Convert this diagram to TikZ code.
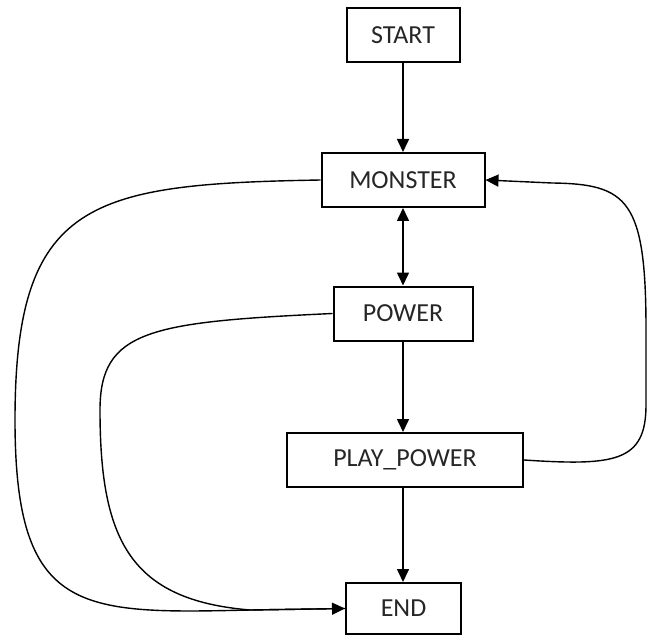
\documentclass[tikz,border=0pt]{standalone}
\usepackage{fontspec}
\setmainfont{Carlito}
\usepackage{tikz}
\usetikzlibrary{arrows.meta}

\begin{document}
\begin{tikzpicture}[x=0.5pt,y=-0.5pt,
    etat/.style={draw,line width=1pt,rectangle,minimum height=27pt,inner sep=0pt,
                 font=\fontsize{13}{15}\selectfont,text=black!85},
    fleche/.style={line width=0.8pt,-{Triangle[length=6.5pt,width=6pt]}},
    boucle/.style={line width=0.7pt}]
  \useasboundingbox (0,0) rectangle (647,636);
  % les etats
  \node[etat,minimum width=56.5pt] (start) at (403,35.5) {START};
  \node[etat,minimum width=81.5pt] (monster) at (403,180) {MONSTER};
  \node[etat,minimum width=69.5pt] (power) at (403,313.5) {POWER};
  \node[etat,minimum width=118pt] (playpower) at (405,460) {PLAY\_POWER};
  \node[etat,minimum width=57.5pt,minimum height=25.5pt] (fin) at (403.5,608.5) {END};
  % fleches verticales
  \draw[fleche] (start.south) -- (start.south |- monster.north);
  \draw[line width=0.8pt,{Triangle[length=6.5pt,width=6pt]}-{Triangle[length=6.5pt,width=6pt]}] (monster.south) -- (monster.south |- power.north);
  \draw[fleche] (power.south) -- (power.south |- playpower.north);
  \draw[fleche] (power.south |- playpower.south) -- (power.south |- fin.north);
  % retour vers MONSTER
  \draw[boucle,-{Triangle[length=6.5pt,width=6pt]}] (playpower.east) .. controls (615,466) and (646,462) .. (646,405)
        -- (646,330) .. controls (646,200) and (628,184) .. (552,183) -- (monster.east);
  % sorties vers END
  \draw[boucle] (monster.west) .. controls (90,184) and (15,200) .. (15,420)
        .. controls (15,615) and (80,614) .. (250,610) -- (fin.west);
  \draw[boucle,-{Triangle[length=6.5pt,width=6pt]}] (power.west) .. controls (150,322) and (100,330) .. (100,410)
        .. controls (100,540) and (130,600) .. (250,610) -- (fin.west);
\end{tikzpicture}
\end{document}
